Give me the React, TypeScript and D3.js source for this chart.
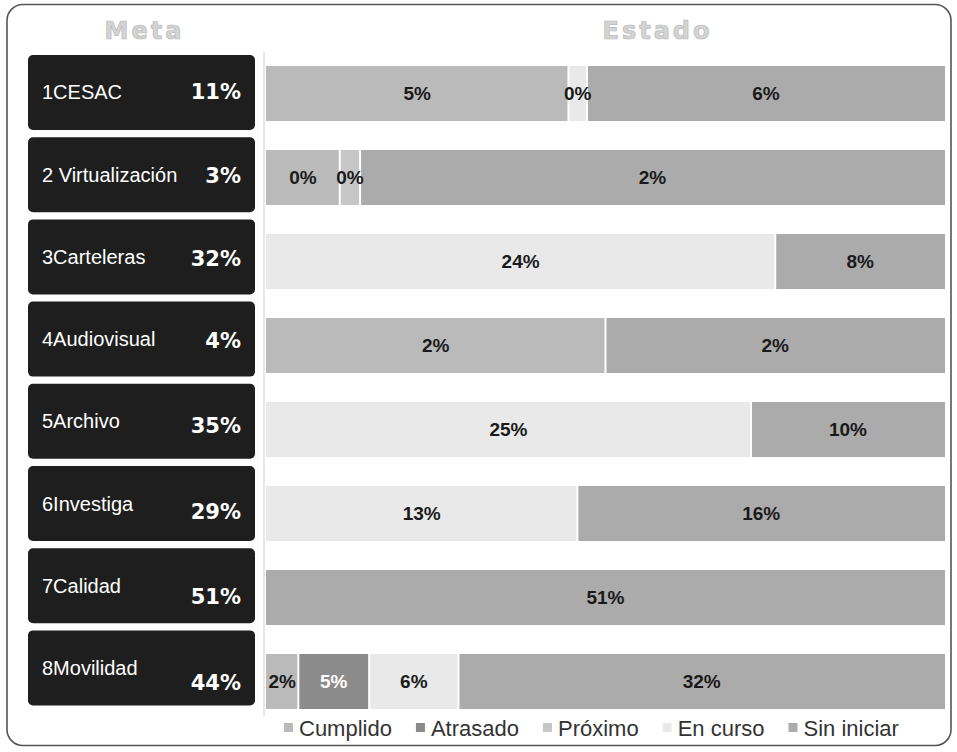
import React from "react";
import * as d3 from "d3";

const categories = ["1CESAC", "2 Virtualización", "3Carteleras", "4Audiovisual", "5Archivo", "6Investiga", "7Calidad", "8Movilidad"];
const seriesNames = ["Cumplido", "Atrasado", "Próximo", "En curso", "Sin iniciar"];
const cumplido = [4.9, 0.29, 0, 2.0, 0, 0, 0, 2.1];
const atrasado = [0, 0, 0, 0, 0, 0, 0, 4.6];
const proximo = [0, 0.08, 0, 0, 0, 0, 0, 0];
const enCurso = [0.3, 0, 24, 0, 25, 13.3, 0, 5.8];
const sinIniciar = [5.8, 2.3, 8, 2.0, 10, 15.7, 51, 31.6];

const seriesValues = [cumplido, atrasado, proximo, enCurso, sinIniciar];
const seriesColors = ["#bababa", "#8b8b8b", "#c6c6c6", "#e9e9e9", "#ababab"];
const labelColors = ["#1a1a1a", "#ffffff", "#1a1a1a", "#1a1a1a", "#1a1a1a"];
const pctDy = [0, 1, 2, 2, 5, 8, 11, 15];

const W = 957;
const H = 752;

function measure(text: string, font: string) {
  const c = document.createElement("canvas").getContext("2d");
  if (!c) return text.length * 10;
  c.font = font;
  return c.measureText(text).width;
}

export default function App() {
  const rows = categories.map((cat, i) => {
    const vals = seriesValues.map((s) => s[i]);
    const total = d3.sum(vals);
    return { cat, vals, total };
  });

  const yBar = d3.scaleBand<number>().domain(d3.range(categories.length)).range([66, 709]).paddingInner(0.345).paddingOuter(0);
  const yBox = d3.scaleBand<number>().domain(d3.range(categories.length)).range([55, 705.4]).paddingInner(0.0876).paddingOuter(0);
  const fmt = (v: number) => `${Math.round(v)}%`;

  const barX0 = 266;
  const barX1 = 945;

  const legendFont = "22px 'Liberation Sans', Arial, sans-serif";
  let lx = 284;
  const legendItems = seriesNames.map((name, i) => {
    const w = measure(name, legendFont);
    const item = { name, color: seriesColors[i], x: lx };
    lx += 15 + w + 24;
    return item;
  });

  return (
    <svg width={W} height={H} style={{ position: "absolute", left: 0, top: 0, background: "#fff" }} fontFamily="'Liberation Sans', Arial, sans-serif">
      <rect x={7} y={4.5} width={944} height={741} rx={16} ry={16} fill="#fff" stroke="#555" strokeWidth={1.6} />
      <text x={143 + 1.5} y={39} textAnchor="middle" fontFamily="'DejaVu Sans', sans-serif" fontWeight="bold" fontSize={24} letterSpacing={3} fill="#d4d4d4" stroke="#b8b8b8" strokeWidth={0.7}>Meta</text>
      <text x={656 + 1.5} y={39} textAnchor="middle" fontFamily="'DejaVu Sans', sans-serif" fontWeight="bold" fontSize={24} letterSpacing={3} fill="#d4d4d4" stroke="#b8b8b8" strokeWidth={0.7}>Estado</text>
      <line x1={264} x2={264} y1={52} y2={716} stroke="#d0d0d0" strokeWidth={1} />
      {rows.map((r, i) => {
        const by = yBox(i)!;
        const bh = yBox.bandwidth();
        const cy = by + bh / 2;
        return (
          <g key={"box" + i}>
            <rect x={28} y={by} width={227} height={bh} rx={5} ry={5} fill="#1e1e1e" />
            <text x={42} y={cy} dominantBaseline="central" fill="#fff" fontSize={20}>{r.cat}</text>
            <text x={241} y={cy + pctDy[i]} dominantBaseline="central" textAnchor="end" fill="#fff" fontSize={21} fontWeight="bold" fontFamily="'DejaVu Sans', sans-serif">{fmt(r.total)}</text>
          </g>
        );
      })}
      {rows.map((r, i) => {
        const x = d3.scaleLinear().domain([0, r.total]).range([barX0, barX1]);
        const y = yBar(i)!;
        const h = yBar.bandwidth();
        let acc = 0;
        const segs: { s: number; v: number; x0: number; x1: number }[] = [];
        r.vals.forEach((v, s) => {
          if (v > 0) {
            segs.push({ s, v, x0: x(acc), x1: x(acc + v) });
          }
          acc += v;
        });
        return (
          <g key={"bar" + i}>
            {segs.map((sg, k) => {
              const a = k === 0 ? sg.x0 : sg.x0 + 1;
              const b = k === segs.length - 1 ? sg.x1 : sg.x1 - 1;
              return <rect key={k} x={a} y={y} width={Math.max(0, b - a)} height={h} fill={seriesColors[sg.s]} />;
            })}
            {segs.map((sg, k) => (
              <text key={"t" + k} x={(sg.x0 + sg.x1) / 2} y={y + h / 2} dominantBaseline="central" textAnchor="middle" fontSize={19} fontWeight="bold" fill={labelColors[sg.s]}>{fmt(sg.v)}</text>
            ))}
          </g>
        );
      })}
      {legendItems.map((it, i) => (
        <g key={"lg" + i}>
          <rect x={it.x} y={723} width={9} height={9} fill={it.color} />
          <text x={it.x + 15} y={728} dominantBaseline="central" fontSize={22} fill="#333">{it.name}</text>
        </g>
      ))}
    </svg>
  );
}
